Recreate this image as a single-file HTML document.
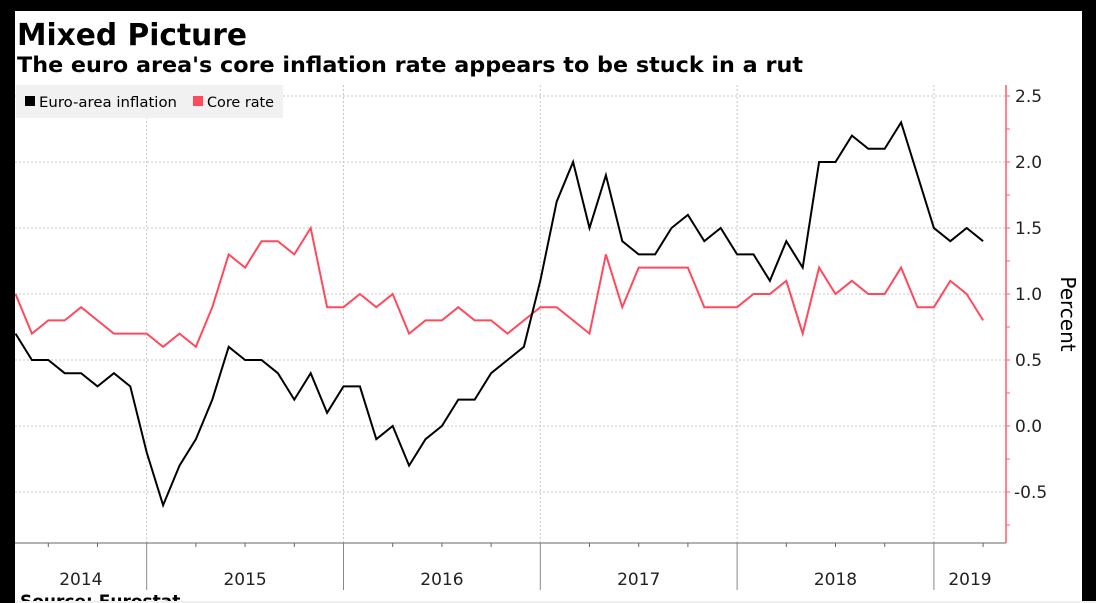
<!DOCTYPE html>
<html><head><meta charset="utf-8"><style>
html,body{margin:0;padding:0;background:#000;}
#wrap{position:relative;width:1096px;height:603px;overflow:hidden;background:#000;}
svg{position:absolute;left:0;top:0;}
text{font-family:"DejaVu Sans","Liberation Sans",sans-serif;}
</style></head><body>
<div id="wrap">
<svg id="chart" width="1096" height="603"></svg>
</div>
<script>
const startYear = 2014;
const startMonth = 5; // May 2014
const headline = [0.7,0.5,0.5,0.4,0.4,0.3,0.4,0.3,-0.2,-0.6,-0.3,-0.1,0.2,0.6,0.5,0.5,0.4,0.2,0.4,0.1,0.3,0.3,-0.1,0.0,-0.3,-0.1,0.0,0.2,0.2,0.4,0.5,0.6,1.1,1.7,2.0,1.5,1.9,1.4,1.3,1.3,1.5,1.6,1.4,1.5,1.3,1.3,1.1,1.4,1.2,2.0,2.0,2.2,2.1,2.1,2.3,1.9,1.5,1.4,1.5,1.4];
const core = [1.0,0.7,0.8,0.8,0.9,0.8,0.7,0.7,0.7,0.6,0.7,0.6,0.9,1.3,1.2,1.4,1.4,1.3,1.5,0.9,0.9,1.0,0.9,1.0,0.7,0.8,0.8,0.9,0.8,0.8,0.7,0.8,0.9,0.9,0.8,0.7,1.3,0.9,1.2,1.2,1.2,1.2,0.9,0.9,0.9,1.0,1.0,1.1,0.7,1.2,1.0,1.1,1.0,1.0,1.2,0.9,0.9,1.1,1.0,0.8];
const yTicks = [-0.5,0.0,0.5,1.0,1.5,2.0,2.5];
const yearLabels = ["2014","2015","2016","2017","2018","2019"];

const NS="http://www.w3.org/2000/svg";
const svg=document.getElementById('chart');
function mk(tag,attrs,parent){const e=document.createElementNS(NS,tag);for(const k in attrs)e.setAttribute(k,attrs[k]);(parent||svg).appendChild(e);return e;}
const L=15, R=1006, T=85, B=543;
const X0=15.5, STEP=16.4;
function xs(i){return X0+i*STEP;}
function ys(v){return 426-v*132;}

let e;
e=mk('rect',{x:15,y:11,width:1067,height:590,fill:'#fff'});



e=mk('text',{x:17,y:45,'font-size':30,'font-weight':'bold',fill:'#000',textLength:230,lengthAdjust:'spacingAndGlyphs'});e.textContent='Mixed Picture';


e=mk('text',{x:17,y:72,'font-size':21,'font-weight':'bold',fill:'#000',textLength:786,lengthAdjust:'spacingAndGlyphs'});e.textContent="The euro area's core inflation rate appears to be stuck in a rut";



yTicks.forEach(v=>{
  const g=mk('line',{x1:L,x2:R,y1:ys(v),y2:ys(v),stroke:'#c8c8c8','stroke-dasharray':'2,2','stroke-width':1});
  
  
});
const yearIdx=[];
const firstJan = 13-startMonth;
for(let i=firstJan;i<headline.length;i+=12) yearIdx.push(i);
yearIdx.forEach(i=>{
  const g=mk('line',{x1:xs(i),x2:xs(i),y1:T,y2:B,stroke:'#c8c8c8','stroke-dasharray':'2,2','stroke-width':1});
  
  
});
for(let i=0;i<headline.length;i++){
  const m=(startMonth-1+i)%12;
  if(m%3===0){
    const isYear=(m===0);
    const t=mk('line',{x1:xs(i),x2:xs(i),y1:B,y2:isYear?590:B+4,stroke:isYear?'#888':'#666','stroke-width':1});
    
    
  }
}
e=mk('line',{x1:L,x2:R,y1:B,y2:B,stroke:'#666','stroke-width':1});


const bounds=[L].concat(yearIdx.map(xs)).concat([R]);
yearLabels.forEach((lab,k)=>{
  const cx=(bounds[k]+bounds[k+1])/2;
  const t=mk('text',{x:cx,y:585,'font-size':17,'text-anchor':'middle',fill:'#222'});t.textContent=lab;
  
  
});
e=mk('line',{x1:R,x2:R,y1:T,y2:B,stroke:'#ff5a6e','stroke-width':1.5});


for(let v=-0.75;v<=2.6;v+=0.25){
  const t=mk('line',{x1:R,x2:R+4,y1:ys(v),y2:ys(v),stroke:'#ff5a6e','stroke-width':1});
  
  
}
yTicks.forEach(v=>{
  const t=mk('text',{x:v<0?1014:1015,y:ys(v)+6,'font-size':17,fill:'#222'});t.textContent=v.toFixed(1);
  
  
});
e=mk('text',{x:0,y:0,'font-size':20,fill:'#000',transform:'translate(1061,314) rotate(90)','text-anchor':'middle'});e.textContent='Percent';



function line(data,color,name){
  const p=mk('polyline',{points:data.map((v,i)=>xs(i)+','+ys(v)).join(' '),fill:'none',stroke:color,'stroke-width':2,'stroke-linejoin':'miter'});
  
  
}
line(core,'#ff4a5e','core-rate-line');
line(headline,'#000','euro-area-inflation-line');

const lg=mk('g',{});


e=mk('rect',{x:16,y:85,width:267,height:33,fill:'#f1f1f1'},lg);
e=mk('rect',{x:25,y:96,width:10,height:10,fill:'#000'},lg);
e=mk('text',{x:39,y:107,'font-size':14.5,fill:'#000',textLength:138,lengthAdjust:'spacingAndGlyphs'},lg);e.textContent='Euro-area inflation';


e=mk('rect',{x:193,y:96,width:10,height:10,fill:'#ff4a5e'},lg);
e=mk('text',{x:207,y:107,'font-size':14.5,fill:'#000',textLength:67,lengthAdjust:'spacingAndGlyphs'},lg);e.textContent='Core rate';



e=mk('text',{x:20,y:607,'font-size':17,'font-weight':'bold',fill:'#000'});e.textContent='Source: Eurostat';


e=mk('rect',{x:0,y:601,width:1096,height:2,fill:'#f0f0f0'});


e=mk('rect',{x:0,y:0,width:15,height:603,fill:'#000'});


e=mk('rect',{x:1082,y:0,width:14,height:601,fill:'#000'});


e=mk('rect',{x:0,y:0,width:1096,height:11,fill:'#000'});


</script>
</body></html>
